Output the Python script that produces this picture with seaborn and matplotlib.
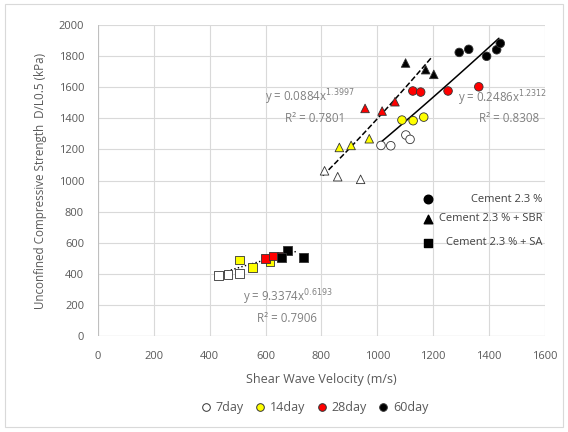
import numpy as np
import pandas as pd
import seaborn as sns
import matplotlib.pyplot as plt
from matplotlib.lines import Line2D
from matplotlib.patches import Rectangle

# Cement 2.3 % (circles)
c_age = ['7day'] * 4 + ['14day'] * 3 + ['28day'] * 4 + ['60day'] * 5
c_vs = [1013, 1048, 1102, 1117, 1088, 1128, 1166, 1127, 1155, 1253, 1363, 1293, 1327, 1391, 1427, 1440]
c_qu = [1226, 1224, 1293, 1265, 1389, 1385, 1408, 1576, 1569, 1576, 1603, 1824, 1844, 1799, 1841, 1882]

# Cement 2.3 % + SBR (triangles)
t_age = ['7day'] * 3 + ['14day'] * 3 + ['28day'] * 3 + ['60day'] * 3
t_vs = [811, 858, 940, 864, 906, 971, 956, 1017, 1063, 1101, 1173, 1202]
t_qu = [1063, 1025, 1008, 1213, 1226, 1269, 1464, 1447, 1507, 1756, 1713, 1683]

# Cement 2.3 % + SA (squares)
s_age = ['7day'] * 3 + ['14day'] * 3 + ['28day'] * 3 + ['60day'] * 3
s_vs = [432, 466, 506, 507, 554, 616, 600, 629, 655, 678, 657, 736]
s_qu = [388, 397, 403, 489, 442, 476, 500, 516, 510, 551, 506, 506]

# power trend lines y = a * x^b (from chart labels)
fits = {
    'c': dict(a=0.2486, b=1.2312, x0=1005, x1=1435, ls='-', eq='y = 0.2486x$^{1.2312}$', r2='R² = 0.8308'),
    't': dict(a=0.0884, b=1.3997, x0=805, x1=1195, ls='--', eq='y = 0.0884x$^{1.3997}$', r2='R² = 0.7801'),
    's': dict(a=9.3374, b=0.6193, x0=425, x1=715, ls=':', eq='y = 9.3374x$^{0.6193}$', r2='R² = 0.7906'),
}

ages = ['7day', '14day', '28day', '60day']
palette = {'7day': 'white', '14day': '#FFFF00', '28day': '#FF0000', '60day': 'black'}
binders = ['Cement 2.3 %', 'Cement 2.3 % + SBR', 'Cement 2.3 % + SA']
markers = {'Cement 2.3 %': 'o', 'Cement 2.3 % + SBR': '^', 'Cement 2.3 % + SA': 's'}

df = pd.concat([
    pd.DataFrame({'vs': c_vs, 'qu': c_qu, 'age': c_age, 'binder': binders[0]}),
    pd.DataFrame({'vs': t_vs, 'qu': t_qu, 'age': t_age, 'binder': binders[1]}),
    pd.DataFrame({'vs': s_vs, 'qu': s_qu, 'age': s_age, 'binder': binders[2]}),
])

sns.set_theme(style='whitegrid')
plt.rcParams['font.family'] = ['Open Sans', 'DejaVu Sans']
grey = '#595959'

fig = plt.figure(figsize=(5.68, 4.32), dpi=100)
ax = fig.add_axes([0.1725, 0.222, 0.787, 0.72])

sns.scatterplot(data=df, x='vs', y='qu', hue='age', style='binder', palette=palette,
                markers=markers, hue_order=ages, style_order=binders, s=38,
                edgecolor='#333333', linewidth=0.6, legend=False, ax=ax, zorder=3)

for f in fits.values():
    xs = np.linspace(f['x0'], f['x1'], 50)
    ax.plot(xs, f['a'] * xs ** f['b'], color='black', lw=1.1 if f['ls'] != ':' else 1.0,
            ls=f['ls'], zorder=2)

txt = dict(color='#808080', fontsize=8.3, ha='center', va='center')
ax.text(759, 1537, fits['t']['eq'], **txt)
ax.text(777, 1402, fits['t']['r2'], **txt)
ax.text(1450, 1530, fits['c']['eq'], **txt)
ax.text(1471, 1402, fits['c']['r2'], **txt)
ax.text(680, 251, fits['s']['eq'], **txt)
ax.text(677, 116, fits['s']['r2'], **txt)

# in-plot legend for binder type
leg_y = [880, 755, 600]
for b, yv in zip(binders, leg_y):
    ax.scatter([1180], [yv], marker=markers[b], color='black', s=38, zorder=4)
    ax.text(1590, yv, b, ha='right', va='center', color='#404040', fontsize=8)

ax.set_xlim(0, 1600)
ax.set_ylim(0, 2000)
ax.set_xticks(range(0, 1601, 200))
ax.set_yticks(range(0, 2001, 200))
ax.grid(color='#d9d9d9', lw=0.8)
for sp in ax.spines.values():
    sp.set_visible(False)
ax.axvline(0, color='#bfbfbf', lw=0.8)
ax.axhline(0, color='#bfbfbf', lw=0.8)
ax.tick_params(axis='both', length=0, labelsize=8, colors=grey)
ax.tick_params(axis='x', pad=11)
ax.tick_params(axis='y', pad=10)
ax.set_xlabel('Shear Wave Velocity (m/s)', fontsize=9, color=grey, labelpad=8)
ax.set_ylabel('Unconfined Compressive Strength  D/L0.5 (kPa)', fontsize=8.4, color=grey, labelpad=8)

handles = [Line2D([], [], marker='o', ls='none', markerfacecolor=palette[a],
                  markeredgecolor='#333333', markeredgewidth=0.7, markersize=5.5) for a in ages]
fig.legend(handles, ages, loc='center', bbox_to_anchor=(0.553, 0.056), ncol=4, frameon=False,
           fontsize=9, handletextpad=0.3, columnspacing=0.8, handlelength=1.0,
           labelcolor=grey)

fig.add_artist(Rectangle((0.008, 0.012), 0.984, 0.978, transform=fig.transFigure,
                         fill=False, edgecolor='#d9d9d9', lw=0.8))

fig.savefig('out.png', dpi=100)
